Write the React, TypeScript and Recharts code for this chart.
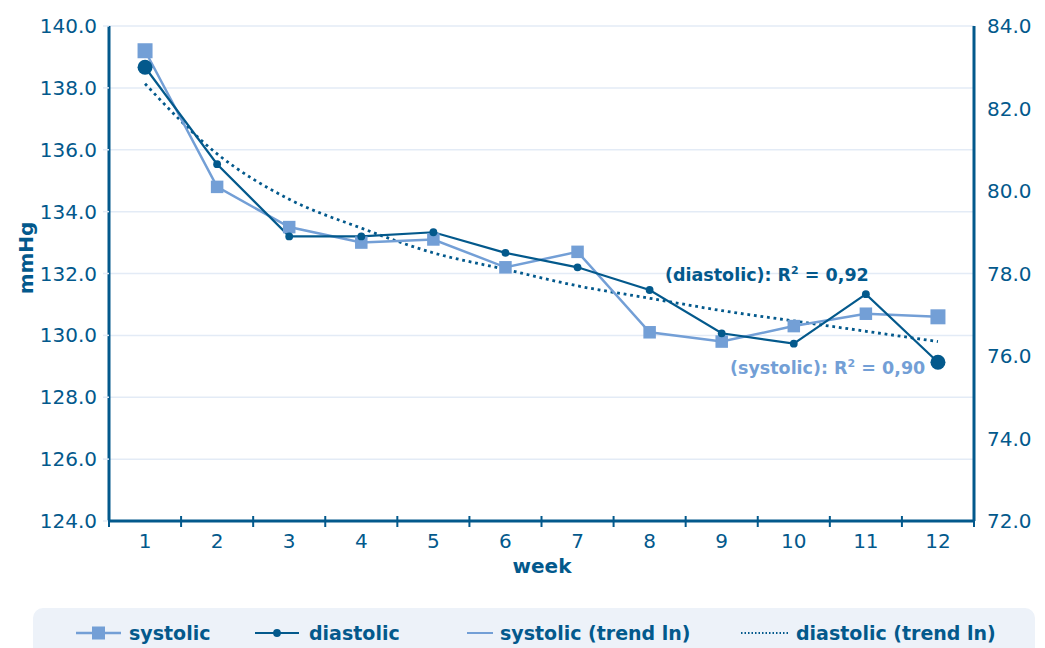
import React from 'react';
import { ComposedChart, Line, XAxis, YAxis, CartesianGrid } from 'recharts';

const DARK = '#03598c';
const LIGHT = '#739fd6';
const GRID = '#e3ebf6';
const FONT = '"DejaVu Sans", Verdana, sans-serif';

const weeks = [1, 2, 3, 4, 5, 6, 7, 8, 9, 10, 11, 12];
const systolic = [139.2, 134.8, 133.5, 133.0, 133.1, 132.2, 132.7, 130.1, 129.8, 130.3, 130.7, 130.6];
const diastolic = [83.0, 80.65, 78.9, 78.9, 79.0, 78.5, 78.15, 77.6, 76.55, 76.3, 77.5, 75.85];
const diastolicTrend = [82.6, 80.9, 79.8, 79.1, 78.5, 78.1, 77.7, 77.4, 77.1, 76.85, 76.6, 76.35];

const leftTicks = [124, 126, 128, 130, 132, 134, 136, 138, 140];
const rightTicks = [72, 74, 76, 78, 80, 82, 84];
const xTicks = [0.5, 1, 1.5, 2, 2.5, 3, 3.5, 4, 4.5, 5, 5.5, 6, 6.5, 7, 7.5, 8, 8.5, 9, 9.5, 10, 10.5, 11, 11.5, 12, 12.5];

const data = weeks.map((w, i) => ({
  week: w,
  systolic: systolic[i],
  diastolic: diastolic[i],
  diastolicTrend: diastolicTrend[i],
}));

const last = weeks.length - 1;

const SquareDot = (props: any) => {
  const { cx, cy, index } = props;
  const s = index === 0 || index === last ? 15 : 12.5;
  return <rect key={`s-${index}`} x={cx - s / 2} y={cy - s / 2} width={s} height={s} fill={LIGHT} />;
};

const RoundDot = (props: any) => {
  const { cx, cy, index } = props;
  const r = index === 0 || index === last ? 7.5 : 3.9;
  return <circle key={`d-${index}`} cx={cx} cy={cy} r={r} fill={DARK} />;
};

// labels at whole weeks, tick marks between them
const WeekTick = (props: any) => {
  const { x, y, payload } = props;
  const v = payload.value;
  if (v % 1 !== 0) {
    return <line x1={x} x2={x} y1={y - 5} y2={y + 6} stroke={DARK} strokeWidth={2} />;
  }
  return (
    <text x={x} y={y + 27} textAnchor="middle" fill={DARK} fontSize={20} fontFamily={FONT}>
      {v}
    </text>
  );
};

const tickStyle = { fill: DARK, fontSize: 20, fontFamily: FONT };

export default function App() {
  return (
    <div style={{ position: 'relative', width: 1045, height: 648, overflow: 'hidden', fontFamily: FONT, background: '#fff' }}>
      <style>{'body{margin:0}'}</style>
      <ComposedChart width={1045} height={648} data={data} margin={{ top: 26, right: 11, bottom: 87, left: 9 }}>
        <CartesianGrid yAxisId="left" vertical={false} stroke={GRID} strokeWidth={1.5} />
        <XAxis
          dataKey="week"
          type="number"
          domain={[0.5, 12.5]}
          ticks={xTicks}
          interval={0}
          height={40}
          tickSize={0}
          tickMargin={0}
          tickLine={false}
          axisLine={{ stroke: DARK, strokeWidth: 3 }}
          tick={<WeekTick />}
        />
        <YAxis
          yAxisId="left"
          orientation="left"
          width={100}
          domain={[124, 140]}
          ticks={leftTicks}
          interval={0}
          tickFormatter={(v: number) => v.toFixed(1)}
          tick={tickStyle}
          tickSize={6}
          tickMargin={6}
          tickLine={{ stroke: GRID, strokeWidth: 1.5 }}
          axisLine={{ stroke: DARK, strokeWidth: 3 }}
        />
        <YAxis
          yAxisId="right"
          orientation="right"
          width={60}
          domain={[72, 84]}
          ticks={rightTicks}
          interval={0}
          tickFormatter={(v: number) => v.toFixed(1)}
          tick={tickStyle}
          tickSize={6}
          tickMargin={7}
          tickLine={false}
          axisLine={{ stroke: DARK, strokeWidth: 3 }}
        />
        <Line
          yAxisId="right"
          dataKey="diastolicTrend"
          type="monotone"
          stroke={DARK}
          strokeWidth={2.8}
          strokeDasharray="2.8 3.8"
          dot={false}
          isAnimationActive={false}
        />
        <Line
          yAxisId="left"
          dataKey="systolic"
          type="linear"
          stroke={LIGHT}
          strokeWidth={2.5}
          dot={<SquareDot />}
          isAnimationActive={false}
        />
        <Line
          yAxisId="right"
          dataKey="diastolic"
          type="linear"
          stroke={DARK}
          strokeWidth={2.2}
          dot={<RoundDot />}
          isAnimationActive={false}
        />
      </ComposedChart>

      {/* axis titles */}
      <div style={{ position: 'absolute', left: 26, top: 258, transform: 'translate(-50%,-50%) rotate(-90deg)', color: DARK, fontWeight: 'bold', fontSize: 20, whiteSpace: 'nowrap' }}>
        mmHg
      </div>
      <div style={{ position: 'absolute', left: 542, top: 566, transform: 'translate(-50%,-50%)', color: DARK, fontWeight: 'bold', fontSize: 20 }}>
        week
      </div>

      {/* R² labels */}
      <div style={{ position: 'absolute', left: 665, top: 264, color: DARK, fontWeight: 'bold', fontSize: 17.5, whiteSpace: 'nowrap' }}>
        (diastolic): R<sup style={{ fontSize: 11 }}>2</sup> = 0,92
      </div>
      <div style={{ position: 'absolute', left: 730, top: 357, color: LIGHT, fontWeight: 'bold', fontSize: 17.5, whiteSpace: 'nowrap' }}>
        (systolic): R<sup style={{ fontSize: 11 }}>2</sup> = 0,90
      </div>

      {/* legend */}
      <div style={{ position: 'absolute', left: 33, top: 608, width: 1002, height: 60, background: '#edf2f9', borderRadius: 10 }}>
        <svg width={1002} height={40} style={{ position: 'absolute', left: 0, top: 0 }}>
          <line x1={43} x2={88} y1={25} y2={25} stroke={LIGHT} strokeWidth={2.5} />
          <rect x={59} y={18.5} width={13} height={13} fill={LIGHT} />
          <line x1={222} x2={266} y1={25} y2={25} stroke={DARK} strokeWidth={2.2} />
          <circle cx={244} cy={25} r={3.9} fill={DARK} />
          <line x1={434} x2={460} y1={25} y2={25} stroke={LIGHT} strokeWidth={2} />
          <line x1={708} x2={757} y1={25} y2={25} stroke={DARK} strokeWidth={2} strokeDasharray="1.5 2" />
          <g fill={DARK} fontWeight="bold" fontSize={19} fontFamily={FONT}>
            <text x={96} y={32}>systolic</text>
            <text x={276} y={32}>diastolic</text>
            <text x={467} y={32}>systolic (trend ln)</text>
            <text x={763} y={32}>diastolic (trend ln)</text>
          </g>
        </svg>
      </div>
    </div>
  );
}
